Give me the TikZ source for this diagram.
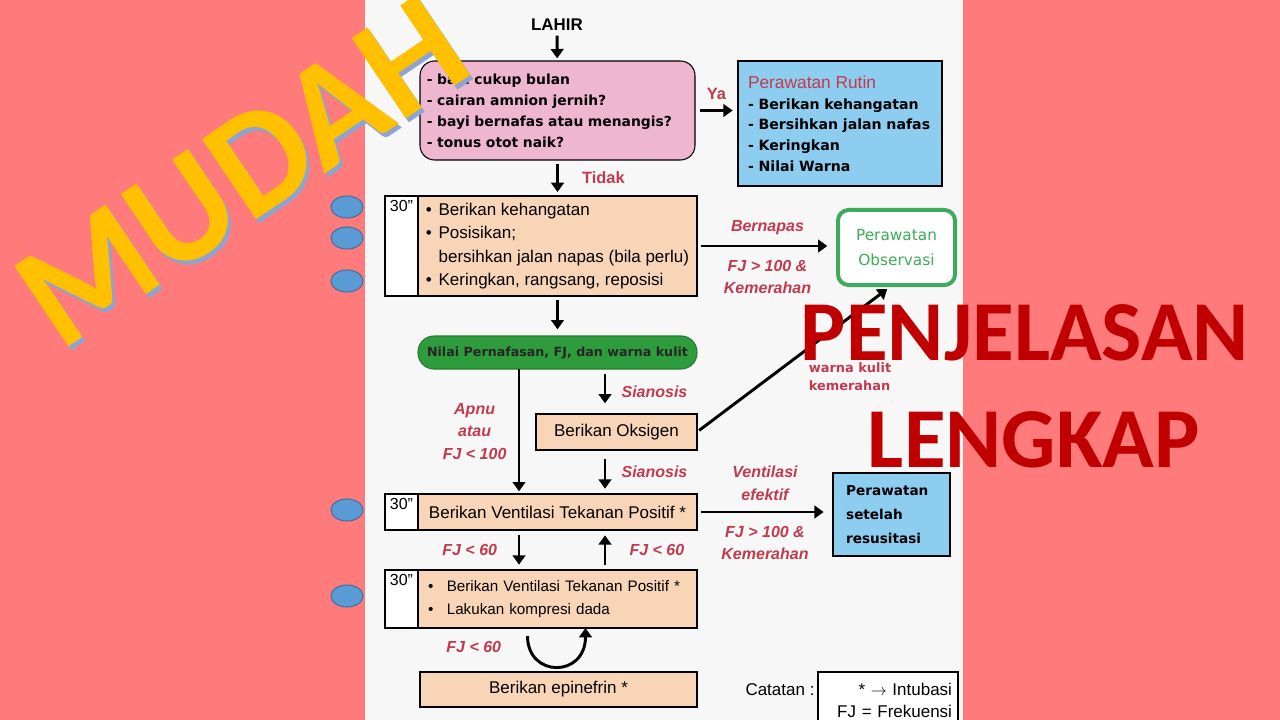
\documentclass[tikz,border=0pt]{standalone}
\usepackage{fontspec}
\setmainfont{Liberation Sans}
\newfontfamily\comicfont{DejaVu Sans}
\newfontfamily\titlefont{Carlito}
\usetikzlibrary{arrows.meta,positioning,shapes.geometric}

\definecolor{bgpink}{HTML}{FF7B7B}
\definecolor{panel}{HTML}{F7F7F7}
\definecolor{cekfill}{HTML}{EFB6CF}
\definecolor{birufill}{HTML}{8DCDF0}
\definecolor{peachfill}{HTML}{F9D5B7}
\definecolor{pilgreen}{HTML}{2E9B3C}
\definecolor{obsgreen}{HTML}{3DAA5C}
\definecolor{lblred}{HTML}{C23A4E}
\definecolor{bigred}{HTML}{C00000}
\definecolor{kuning}{HTML}{FFC000}
\definecolor{bayang}{HTML}{8EA3CF}
\definecolor{bulat}{HTML}{5B9BD5}
\definecolor{bulatline}{HTML}{41719C}

\newcommand{\butir}{\textbullet\hspace{5pt}}
\newcommand{\sambung}{\hphantom{\textbullet}\hspace{5pt}}

\begin{document}
\begin{tikzpicture}[x=0.75pt, y=-0.75pt,
    box/.style={draw, line width=0.8pt, outer sep=0pt, inner sep=0pt},
    peach/.style={box, fill=peachfill, font=\fontsize{12.75}{17.5}\selectfont},
    cell/.style={box, fill=white, minimum width=24.75pt},
    arrow/.style={-{Triangle[length=7pt,width=9.5pt]}, line width=2.2pt},
    lbl/.style={text=lblred, font=\bfseries\itshape\fontsize{12}{17}\selectfont, align=center},
    tanda/.style={text=lblred, font=\bfseries\fontsize{12.3}{14}\selectfont},
    kom/.style={font=\comicfont\bfseries\fontsize{10.4}{15.75}\selectfont},
    tigapuluh/.style={label={[anchor=north, inner sep=3pt, font=\fontsize{12}{14}\selectfont]north:30"}}
  ]
  \clip (0,0) rectangle (1280,720);
  \fill[bgpink] (0,0) rectangle (1280,720);
  \fill[panel] (365,0) rectangle (963,720);

  % awal
  \node[font=\bfseries\fontsize{12.7}{15}\selectfont] (lahir) at (557,25) {LAHIR};
  \node[box, kom, fill=cekfill, rounded corners=11pt, minimum width=206.25pt, minimum height=74.25pt,
        text width=196pt, align=left] (cek) at (557.5,110.5)
    {- bayi cukup bulan\\- cairan amnion jernih?\\- bayi bernafas atau menangis?\\- tonus otot naik?};
  \node[box, fill=birufill, minimum width=153pt, minimum height=93.75pt, text width=138pt,
        align=left, font=\comicfont\bfseries\fontsize{10.6}{15.5}\selectfont] (rutin) at (840,123.5)
    {{\normalfont\fontsize{13}{15.5}\selectfont\color{lblred}Perawatan Rutin}\\- Berikan kehangatan\\- Bersihkan jalan nafas\\- Keringkan\\- Nilai Warna};

  % langkah awal
  \node[peach, minimum width=209.25pt, minimum height=75pt, align=left] (langkah) at (557.5,246)
    {\butir Berikan kehangatan\\\butir Posisikan;\\\sambung bersihkan jalan napas (bila perlu)\\\butir Keringkan, rangsang, reposisi};
  \node[cell, tigapuluh, minimum height=75pt, left=0pt of langkah] (t1) {};
  \node[box, draw=obsgreen, line width=3pt, rounded corners=8pt, fill=white, minimum width=87.75pt,
        minimum height=56.25pt, align=center, text=obsgreen,
        font=\comicfont\fontsize{11.5}{18.75}\selectfont] (obs) at (896.5,247.5) {Perawatan\\Observasi};
  \node[box, fill=pilgreen, draw=pilgreen!80!black, rounded corners=12pt, minimum width=209.25pt,
        minimum height=24.75pt, text=black!85,
        font=\comicfont\bfseries\fontsize{9.5}{12}\selectfont] (nilai) at (557.5,352.5)
    {Nilai Pernafasan, FJ, dan warna kulit};

  % oksigen dan ventilasi
  \node[peach, minimum width=120.75pt, minimum height=27pt] (oksigen) at (616.5,432) {Berikan Oksigen};
  \node[peach, minimum width=209.25pt, minimum height=27pt] (vtp) at (557.5,512)
    {Berikan Ventilasi Tekanan Positif *};
  \node[cell, tigapuluh, minimum height=27pt, left=0pt of vtp] (t2) {};
  \node[box, fill=birufill, minimum width=87.75pt, minimum height=62.25pt, text width=68pt, align=left,
        font=\comicfont\bfseries\fontsize{10.2}{18}\selectfont] (pasca) at (891.5,514.5)
    {Perawatan\\setelah\\resusitasi};
  \node[text=lblred, align=left, font=\comicfont\bfseries\fontsize{9.7}{13.5}\selectfont] (warna) at (850,377)
    {warna kulit\\kemerahan};

  % kompresi dan epinefrin
  \node[peach, minimum width=209.25pt, minimum height=43.5pt, text width=194pt, align=left,
        font=\fontsize{11.4}{17}\selectfont] (kompresi) at (557.5,599)
    {\textbullet\hspace{10pt}Berikan Ventilasi Tekanan Positif *\\\textbullet\hspace{10pt}Lakukan kompresi dada};
  \node[cell, tigapuluh, minimum height=43.5pt, left=0pt of kompresi] (t3) {};
  \node[peach, minimum width=207.75pt, minimum height=26.25pt] (epi) at (558.5,689.5) {Berikan epinefrin *};

  % catatan
  \node[font=\fontsize{12.75}{15}\selectfont] (catlbl) at (780,690) {Catatan :};
  \node[box, fill=white, anchor=north west, minimum width=105pt, minimum height=42pt, text width=96pt,
        align=right, font=\fontsize{12.75}{16.5}\selectfont] (catatan) at (818,672)
    {* $\rightarrow$ Intubasi\\FJ = Frekuensi};

  \coordinate (kiri) at (519,0);
  \coordinate (kanan) at (605,0);

  \draw[arrow, shorten >=2pt] (lahir) -- (cek);
  \draw[arrow, shorten <=4pt, shorten >=4pt] (cek.east) -- (cek.east -| rutin.west)
    node[midway, above=4pt, tanda] {Ya};
  \draw[arrow, shorten <=3pt, shorten >=3pt] (cek) -- (langkah)
    node[midway, right=14pt, tanda] {Tidak};
  \draw[arrow, shorten <=3pt, shorten >=8pt] (langkah.east) -- (langkah.east -| obs.west)
    node[midway, above=4pt, lbl] {Bernapas}
    node[midway, below=6pt, lbl] {FJ > 100 \&\\Kemerahan};
  \draw[arrow, shorten <=3pt, shorten >=5pt] (langkah) -- (nilai);
  \draw[arrow, shorten >=2pt] (nilai.south -| kiri) -- (vtp.north -| kiri)
    node[midway, left=5pt, lbl] {Apnu\\atau\\FJ < 100};
  \draw[arrow, shorten <=4pt, shorten >=8pt] (nilai.south -| kanan) -- (oksigen.north -| kanan)
    node[midway, right=8pt, lbl] {Sianosis};
  \draw[arrow, shorten <=2pt, shorten >=5pt] (oksigen.east) -- ([xshift=-3pt]obs.south);
  \draw[arrow, shorten <=7pt, shorten >=4pt] (oksigen.south -| kanan) -- (vtp.north -| kanan)
    node[midway, right=8pt, lbl] {Sianosis};
  \draw[arrow, shorten <=3pt, shorten >=7pt] (vtp.east) -- (vtp.east -| pasca.west)
    node[midway, above=4pt, lbl] {Ventilasi\\efektif}
    node[midway, below=6pt, lbl] {FJ > 100 \&\\Kemerahan};
  \draw[arrow, shorten <=4pt, shorten >=4pt] (vtp.south -| kiri) -- (kompresi.north -| kiri)
    node[midway, left=12pt, lbl] {FJ < 60};
  \draw[arrow, shorten <=4pt, shorten >=4pt] (kompresi.north -| kanan) -- (vtp.south -| kanan)
    node[midway, right=14pt, lbl] {FJ < 60};
  \draw[arrow, shorten <=6pt] ([xshift=-22.5pt]kompresi.south) .. controls +(0,50) and +(0,50) .. ([xshift=21pt]kompresi.south)
    node[pos=0.15, left=18pt, lbl] {FJ < 60};

  % tulisan besar
  \foreach \y [count=\i] in {207,238,281,510,596}
    \node[ellipse, fill=bulat, draw=bulatline, line width=0.8pt, minimum width=24pt,
          minimum height=16.5pt, inner sep=0pt] (bulat\i) at (347,\y) {};
  \node[rotate=34, text=bayang, font=\titlefont\bfseries\fontsize{112}{120}\selectfont] (mudahbg) at (245,176) {MUDAH};
  \node[rotate=34, text=kuning, font=\titlefont\bfseries\fontsize{112}{120}\selectfont] (mudah) at (242,172) {MUDAH};
  \node[text=bigred, font=\titlefont\bfseries\fontsize{64}{70}\selectfont] (judul) at (1025,333) {PENJELASAN};
  \node[text=bigred, font=\titlefont\bfseries\fontsize{64}{70}\selectfont] (subjudul) at (1034,440) {LENGKAP};
\end{tikzpicture}
\end{document}
